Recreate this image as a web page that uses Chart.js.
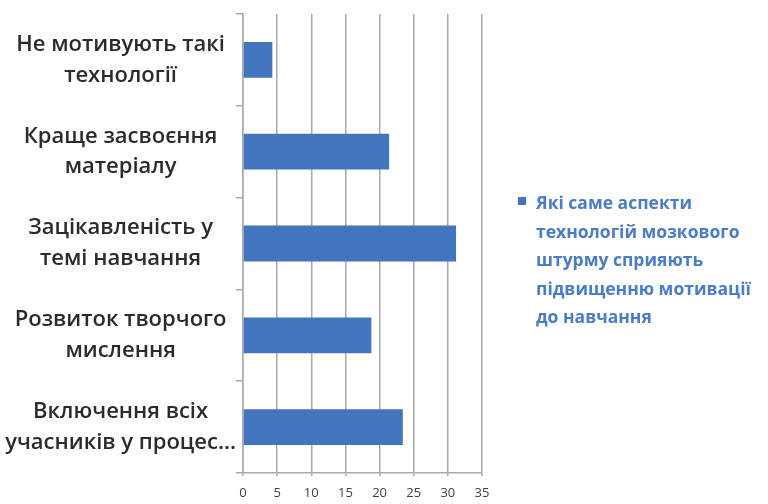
<!DOCTYPE html>
<html><head><meta charset="utf-8">
<script src="https://cdn.jsdelivr.net/npm/chart.js@4/dist/chart.umd.min.js"></script>
<style>
html,body{margin:0;padding:0;background:#fff;}
#wrap{position:relative;width:768px;height:504px;}
canvas{display:block}
#legend{position:absolute;left:536px;top:188px;font-family:'Open Sans',sans-serif;font-weight:bold;font-size:17.5px;color:#4a7cc9;line-height:28.5px;white-space:nowrap;}
#legbox{position:absolute;left:518px;top:197px;width:8px;height:8px;}
</style></head><body>
<div id="wrap"><canvas id="c" width="768" height="504"></canvas><div id="legbox"></div><div id="legend"></div></div>
<script>
const categories = [
  ["Не мотивують такі", "технології"],
  ["Краще засвоєння", "матеріалу"],
  ["Зацікавленість у", "темі навчання"],
  ["Розвиток творчого", "мислення"],
  ["Включення всіх", "учасників у процес..."]
];
const values = [4.3, 21.4, 31.2, 18.8, 23.4];
const seriesLines = ["Які саме аспекти", "технологій мозкового", "штурму сприяють", "підвищенню мотивації", "до навчання"];
const xMin = 0, xMax = 35, xStep = 5;

const barColor = '#4275bd';
const gridColor = '#a9a9a9';

document.getElementById('legbox').style.background = barColor;
document.getElementById('legend').innerHTML = seriesLines.join('<br>');

new Chart(document.getElementById('c'), {
  type: 'bar',
  data: {
    labels: categories,
    datasets: [{
      label: seriesLines.join(' '),
      data: values,
      backgroundColor: barColor,
      borderWidth: 0,
      barPercentage: 0.39,
      categoryPercentage: 1
    }]
  },
  options: {
    indexAxis: 'y',
    responsive: false,
    animation: false,
    devicePixelRatio: 1,
    layout: { padding: { left: 0, top: 14, right: 286, bottom: 0 } },
    plugins: { legend: { display: false }, tooltip: { enabled: false } },
    scales: {
      x: {
        min: xMin, max: xMax,
        ticks: { stepSize: xStep, color: '#404040', font: { family: "'Open Sans'", size: 13 }, padding: 9 },
        grid: { color: gridColor, lineWidth: 1.5, tickLength: 3 },
        border: { color: gridColor, width: 1.5 },
        afterFit: s => { s.height = 31; s.paddingLeft = 0; s.paddingRight = 0; }
      },
      y: {
        ticks: { color: '#2b2b2b', font: { family: "'Open Sans'", size: 22, weight: 600, lineHeight: 1.4 }, crossAlign: 'center', padding: 0, autoSkip: false },
        grid: { offset: true, drawOnChartArea: false, color: gridColor, lineWidth: 1.5, tickLength: 7 },
        border: { color: gridColor, width: 1.5 },
        afterFit: s => { s.width = 243; s.paddingTop = 0; s.paddingBottom = 0; }
      }
    }
  }
});
</script>
</body></html>
